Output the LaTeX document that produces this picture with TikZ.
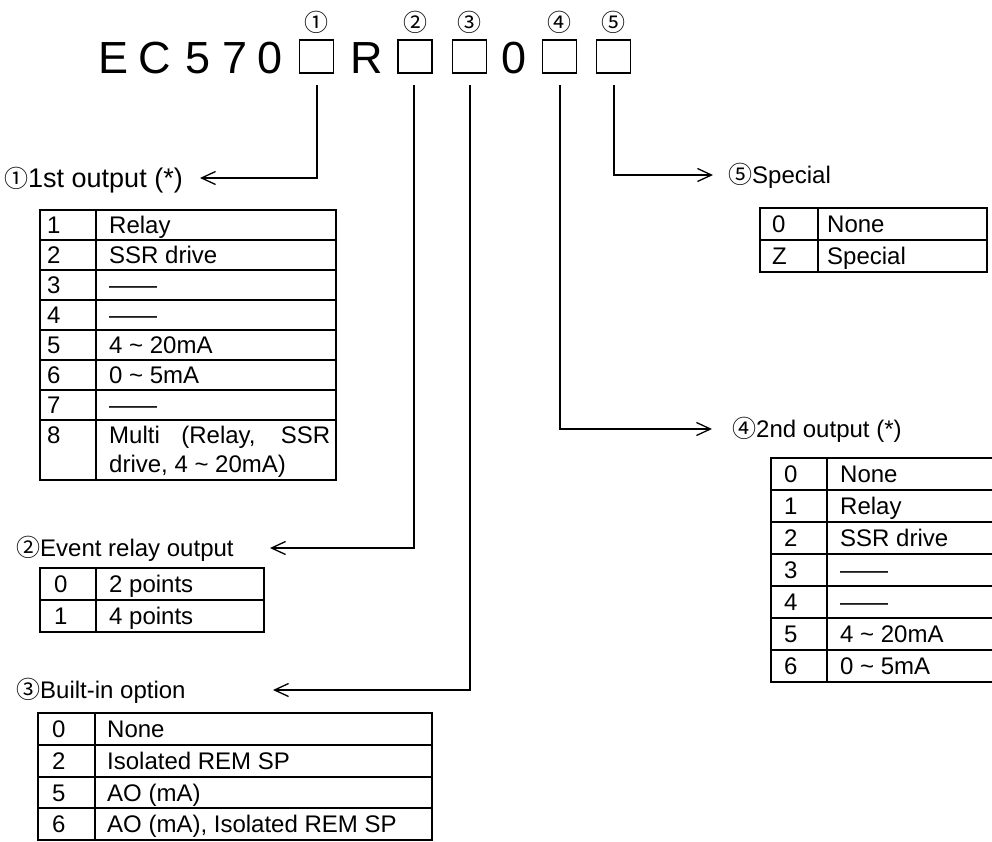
\documentclass[tikz,border=0pt]{standalone}
\usepackage{fontspec}
\setmainfont{Liberation Sans}
\newfontfamily\circfont{Noto Sans CJK JP}
\usetikzlibrary{arrows.meta}
\begin{document}
\begin{tikzpicture}[x=1pt,y=-1pt,
  conn/.style={line width=1.3pt,-{Straight Barb[length=14pt,width=13pt,line width=1.3pt]}},
  frame/.style={line width=1.8pt},
  txt/.style={inner sep=0pt,anchor=base west,font=\fontsize{24}{28}\selectfont},
  big/.style={inner sep=0pt,anchor=base,font=\fontsize{45}{50}\selectfont},
  box/.style={draw,line width=1.3pt,minimum width=34pt,minimum height=33pt,inner sep=0pt},
  cnum/.style={inner sep=0pt,font=\circfont\fontsize{24}{26}\selectfont}]
\useasboundingbox (0,0) rectangle (992,841);
\newcommand\cn[1]{{\circfont\fontsize{24}{24}\selectfont #1}}

% ---- title ----
\node[big] (tE) at (113.5,73) {E};
\node[big] (tC) at (155,73) {C};
\node[big] (t5) at (198,73) {5};
\node[big] (t7) at (235,73) {7};
\node[big] (t0a) at (270.5,73) {0};
\node[big] (tR) at (367,73) {R};
\node[big] (t0b) at (514,73) {0};
\node[box] (sq1) at (316.5,56.5) {};
\node[box] (sq2) at (415,56.5) {};
\node[box] (sq3) at (469.5,56.5) {};
\node[box] (sq4) at (559.5,56.5) {};
\node[box] (sq5) at (613.5,56.5) {};
\node[cnum] (n1) at (316.5,22) {①};
\node[cnum] (n2) at (415,22) {②};
\node[cnum] (n3) at (469.5,22) {③};
\node[cnum] (n4) at (559.5,22) {④};
\node[cnum] (n5) at (613.5,22) {⑤};

% ---- labels ----
\node[txt,font=\fontsize{27}{30}\selectfont] (l1) at (4,187) {\cn{①}1st output (*)};
\node[txt] (l2) at (16,556) {\cn{②}Event relay output};
\node[txt] (l3) at (16,698) {\cn{③}Built-in option};
\node[txt] (l4) at (732,437) {\cn{④}2nd output (*)};
\node[txt] (l5) at (728,183) {\cn{⑤}Special};

% ---- connectors ----
\coordinate (s1) at (317,85);
\coordinate (s2) at (414,85);
\coordinate (s3) at (470,85);
\coordinate (s4) at (560,85);
\coordinate (s5) at (614,85);
\coordinate (e1) at (200,178);
\coordinate (e2) at (270,548);
\coordinate (e3) at (273,690);
\coordinate (e4) at (712,429);
\coordinate (e5) at (713,175);
\draw[conn] (s1) |- (e1);
\draw[conn] (s2) |- (e2);
\draw[conn] (s3) |- (e3);
\draw[conn] (s4) |- (e4);
\draw[conn] (s5) |- (e5);

% ---- table 1 ----
\draw[frame] (40,210) rectangle (336,480);
\draw[frame] (96,210) -- (96,480);
\foreach \k in {1,...,7} \draw[frame] (40,{210+30*\k}) -- (336,{210+30*\k});
\foreach \d/\t [count=\i] in {1/Relay,2/SSR drive,3/——,4/——,5/4 \textasciitilde\ 20mA,6/0 \textasciitilde\ 5mA,7/——}{
  \node[txt] (ta\i) at (47,{233.5+30*(\i-1)}) {\d};
  \node[txt] (tb\i) at (109,{233.5+30*(\i-1)}) {\t};
}
\node[txt] (ta8) at (47,443.5) {8};
\node[txt] (tb8) at (109,443.5) {\makebox[221pt][s]{Multi (Relay, SSR}};
\node[txt] (tb8b) at (109,472) {drive, 4 \textasciitilde\ 20mA)};

% ---- table 2 ----
\draw[frame] (40,568) rectangle (264,632);
\draw[frame] (96,568) -- (96,632);
\draw[frame] (40,600) -- (264,600);
\node[txt] (ua1) at (54,592.5) {0};
\node[txt] (ub1) at (109,592.5) {2 points};
\node[txt] (ua2) at (54,624.5) {1};
\node[txt] (ub2) at (109,624.5) {4 points};

% ---- table 3 ----
\draw[frame] (38,713) rectangle (432,840);
\draw[frame] (95,713) -- (95,840);
\foreach \yy in {745,777,808} \draw[frame] (38,\yy) -- (432,\yy);
\foreach \d/\t/\yy [count=\i] in {0/None/737.5,2/Isolated REM SP/769.5,5/AO (mA)/801,6/{AO (mA), Isolated REM SP}/832.5}{
  \node[txt] (va\i) at (52,\yy) {\d};
  \node[txt] (vb\i) at (107,\yy) {\t};
}

% ---- table 5 ----
\draw[frame] (760,208) rectangle (987,272);
\draw[frame] (818,208) -- (818,272);
\draw[frame] (760,240) -- (987,240);
\node[txt] (wa1) at (772,232.5) {0};
\node[txt] (wb1) at (827,232.5) {None};
\node[txt] (wa2) at (772,264.5) {Z};
\node[txt] (wb2) at (827,264.5) {Special};

% ---- table 4 ----
\draw[frame] (993,458) -- (771,458) -- (771,682) -- (993,682);
\draw[frame] (827,458) -- (827,682);
\foreach \k in {1,...,6} \draw[frame] (771,{458+32*\k}) -- (993,{458+32*\k});
\foreach \d/\t [count=\i] in {0/None,1/Relay,2/SSR drive,3/——,4/——,5/4 \textasciitilde\ 20mA,6/0 \textasciitilde\ 5mA}{
  \node[txt] (xa\i) at (784,{482.5+32*(\i-1)}) {\d};
  \node[txt] (xb\i) at (840,{482.5+32*(\i-1)}) {\t};
}
\end{tikzpicture}
\end{document}
